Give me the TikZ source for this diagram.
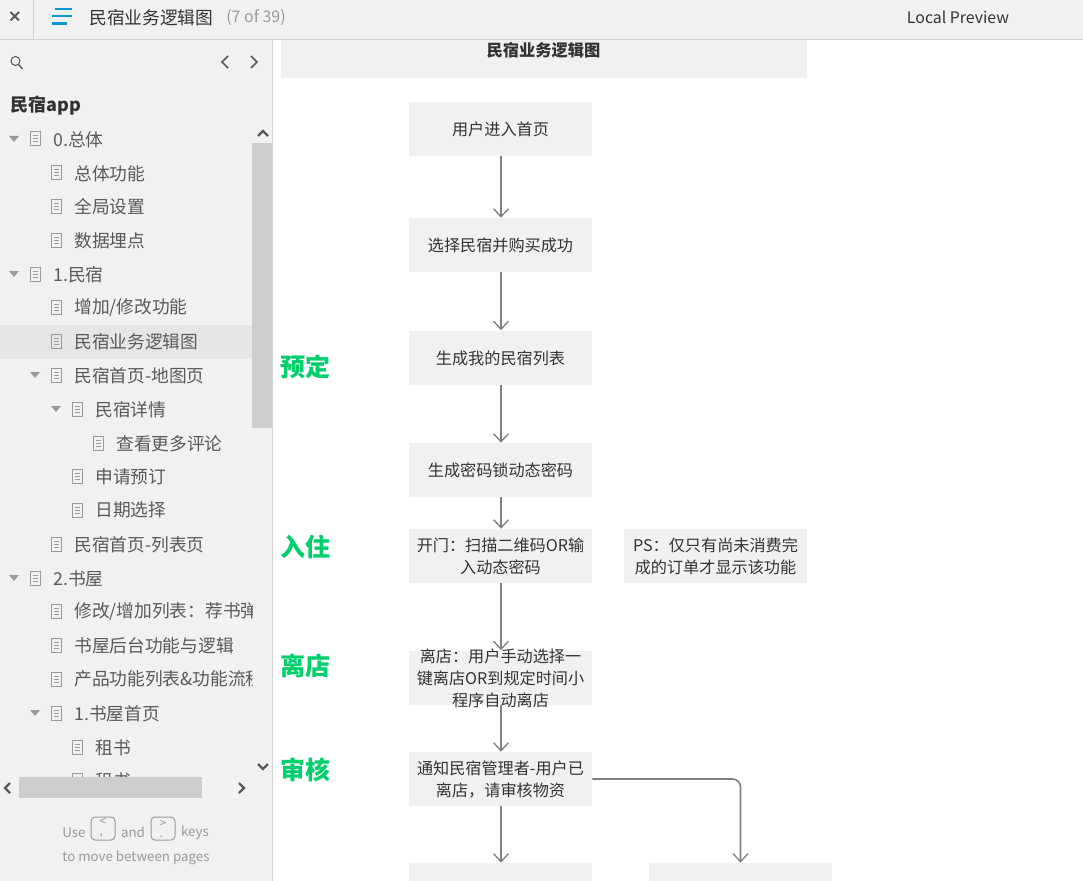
\documentclass[tikz,border=0pt]{standalone}
\usepackage{fontspec}
\setmainfont{Noto Sans CJK SC}
\usetikzlibrary{arrows.meta}
\definecolor{panel}{HTML}{F1F1F1}
\definecolor{hi}{HTML}{E6E6E6}
\definecolor{rule}{HTML}{D0D0D0}
\definecolor{ink}{HTML}{333333}
\definecolor{side}{HTML}{595959}
\definecolor{conn}{HTML}{808080}
\definecolor{grn}{HTML}{00D06C}
\definecolor{thumb}{HTML}{CDCDCD}
\definecolor{blu}{HTML}{0A96D2}
\definecolor{mute}{HTML}{9A9A9A}
\newcommand{\fs}[2]{\fontsize{#1}{#2}\selectfont}
\tikzset{
  x=0.75pt,y=-0.75pt,
  flowbox/.style={fill=panel,minimum width=137.25pt,minimum height=40.5pt,inner sep=0pt},
  flowtext/.style={text=ink,inner sep=0pt,align=center,font=\fs{12.1pt}{16.5pt}},
  conn/.style={draw=conn,line width=1.2pt,-{Straight Barb[length=6pt,width=11pt,line width=1pt]},rounded corners=6pt},
  stage/.style={text=grn,inner sep=0pt,font=\fs{18.75pt}{22pt}\bfseries},
  rowtext/.style={anchor=west,inner sep=0pt,text=side,font=\fs{13.3pt}{16pt}},
  keycap/.style={draw=mute,line width=.75pt,rounded corners=3pt,minimum width=18pt,minimum height=17.25pt,inner sep=0pt,text=mute,align=left,font=\fs{9pt}{7.5pt}},
  footword/.style={inner sep=0pt,text=mute,font=\fs{10pt}{14pt}},
  chevron/.style={draw=side,line width=1.7pt},
}
\newcommand{\row}[3]{% x of icon, y, text
  \draw[draw=mute,line width=.75pt] (#1-5.5,#2-7) rectangle (#1+4.5,#2+7);
  \draw[draw=mute,line width=.75pt] (#1-3,#2-3) -- (#1+2,#2-3) (#1-3,#2) -- (#1+2,#2) (#1-3,#2+3) -- (#1+2,#2+3);
  \node[rowtext] at (#1+17,#2+.3) {#3};
}
\newcommand{\tri}[2]{\fill[mute] (#1-5,#2-3) -- (#1+5,#2-3) -- (#1,#2+3) -- cycle;}
\begin{document}
\begin{tikzpicture}
\useasboundingbox (0,0) rectangle (1083,881);
\clip (0,0) rectangle (1083,881);
\fill[white] (0,0) rectangle (1083,881);
% header and sidebar
\fill[panel] (0,0) rectangle (1083,40);
\fill[panel] (0,40) rectangle (272,881);
\draw[rule,line width=.75pt] (0,40) -- (1083,40);
\draw[rule,line width=.75pt] (272.5,40) -- (272.5,881);
\draw[rule,line width=.75pt] (33.5,0) -- (33.5,40);
\draw[side,line width=1.5pt] (10.5,12) -- (19,20.5) (19,12) -- (10.5,20.5);
\draw[blu,line width=2pt] (55,9) -- (72,9) (52,16) -- (72,16) (52,23.5) -- (67,23.5);
\node[anchor=west,inner sep=0pt,text=ink,font=\fs{13.3pt}{16pt}] (apptitle) at (89,17.5) {民宿业务逻辑图};
\node[anchor=west,inner sep=0pt,text=mute,font=\fs{12pt}{16pt}] (pagecount) at (226,18) {(7 of 39)};
\node[inner sep=0pt,text=ink,font=\fs{11.9pt}{16pt}] (preview) at (958,17.5) {Local Preview};
% search + nav
\draw[side,line width=.8pt] (15.5,61) circle (4.5);
\draw[side,line width=1pt] (18.5,64.5) -- (22.5,69);
\draw[side,line width=1.1pt] (228,56) -- (222,62) -- (228,68);
\draw[side,line width=1.1pt] (251,56) -- (257,62) -- (251,68);
\node[anchor=west,inner sep=0pt,text=ink,font=\fs{13.5pt}{16pt}\bfseries] (appname) at (10,106) {民宿app};
% tree
\begin{scope}
\clip (0,120) rectangle (252,777);
\fill[hi] (0,325) rectangle (252,358.5);
\tri{14}{139}\row{36}{139}{0.总体}
\row{57}{173}{总体功能}
\row{57}{206}{全局设置}
\row{57}{240}{数据埋点}
\tri{14}{274}\row{36}{274}{1.民宿}
\row{57}{307.5}{增加/修改功能}
\row{57}{341}{民宿业务逻辑图}
\tri{35}{375}\row{57}{375}{民宿首页-地图页}
\tri{56}{409}\row{78}{409}{民宿详情}
\row{99}{443}{查看更多评论}
\row{78}{476.5}{申请预订}
\row{78}{510}{日期选择}
\row{57}{544}{民宿首页-列表页}
\tri{14}{578}\row{36}{578}{2.书屋}
\row{57}{611.5}{修改/增加列表：荐书弹窗}
\row{57}{645}{书屋后台功能与逻辑}
\row{57}{679}{产品功能列表\&功能流程图}
\tri{35}{713}\row{57}{713}{1.书屋首页}
\row{78}{747}{租书}
\row{78}{780.5}{租书}
\end{scope}
% scrollbars
\fill[thumb] (252,143) rectangle (272,428);
\fill[panel!96!white] (0,777) rectangle (252,798);
\fill[panel!96!white] (252,125) rectangle (272,143);
\fill[thumb] (19,777) rectangle (202,798);
\draw[chevron] (258,136) -- (263,131) -- (268,136);
\draw[chevron] (258,764) -- (263,769) -- (268,764);
\draw[chevron] (10,783) -- (5,788) -- (10,793);
\draw[chevron] (239,783) -- (244,788) -- (239,793);
% footer
\node[footword] (useword) at (74,832.5) {Use};
\node[keycap] (key1) at (103,828.5) {<\\,};
\node[footword] (andword) at (133,832.5) {and};
\node[keycap] (key2) at (163,828.5) {>\\.};
\node[footword] (keysword) at (195,832.5) {keys};
\node[footword] (moveword) at (136,857.5) {to move between pages};
% page title band
\fill[panel] (281,40) rectangle (807,78);
\node[inner sep=0pt,text=ink,font=\fs{12.2pt}{16pt}\bfseries] (pagetitle) at (543.5,50) {民宿业务逻辑图};
% flow boxes
\node[flowbox] (n1) at (500.5,129) {};
\node[flowbox] (n2) at (500.5,245) {};
\node[flowbox] (n3) at (500.5,357.5) {};
\node[flowbox] (n4) at (500.5,470) {};
\node[flowbox] (n5) at (500.5,556) {};
\node[flowbox] (ps) at (715.5,556) {};
\node[flowbox] (n6) at (500.5,677.5) {};
\node[flowbox] (n7) at (500.5,779) {};
\node[flowbox] (n8) at (500.5,890) {};
\node[flowbox] (n9) at (740.5,890) {};
% flow texts
\node[flowtext] (t1) at (500.5,129.5) {用户进入首页};
\node[flowtext] (t2) at (500.5,245.5) {选择民宿并购买成功};
\node[flowtext] (t3) at (500.5,358.5) {生成我的民宿列表};
\node[flowtext] (t4) at (500.5,470.5) {生成密码锁动态密码};
\node[flowtext] (t5) at (500.5,556.5) {开门：扫描二维码OR输\\入动态密码};
\node[flowtext] (tps) at (715.5,556.5) {PS：仅只有尚未消费完\\成的订单才显示该功能};
\node[flowtext] (t6) at (500.5,678.5) {离店：用户手动选择一\\键离店OR到规定时间小\\程序自动离店};
\node[flowtext] (t7) at (500.5,779.5) {通知民宿管理者-用户已\\离店，请审核物资};
% connectors
\draw[conn] ([xshift=.4pt]n1.south) -- ([xshift=.4pt]n2.north);
\draw[conn] ([xshift=.4pt]n2.south) -- ([xshift=.4pt]n3.north);
\draw[conn] ([xshift=.4pt]n3.south) -- ([xshift=.4pt]n4.north);
\draw[conn] ([xshift=.4pt]n4.south) -- ([xshift=.4pt]n5.north);
\draw[conn] ([xshift=.4pt]n5.south) -- ([xshift=.4pt]n6.north);
\draw[conn] ([xshift=.4pt]n6.south) -- ([xshift=.4pt]n7.north);
\draw[conn] ([xshift=.4pt]n7.south) -- ([xshift=.4pt]n8.north);
\draw[conn] (n7.east) -| (n9.north);
% stage labels
\node[stage] (s1) at (305,366.5) {预定};
\node[stage] (s2) at (305,546.5) {入住};
\node[stage] (s3) at (305,666) {离店};
\node[stage] (s4) at (305,769.5) {审核};
\end{tikzpicture}
\end{document}
